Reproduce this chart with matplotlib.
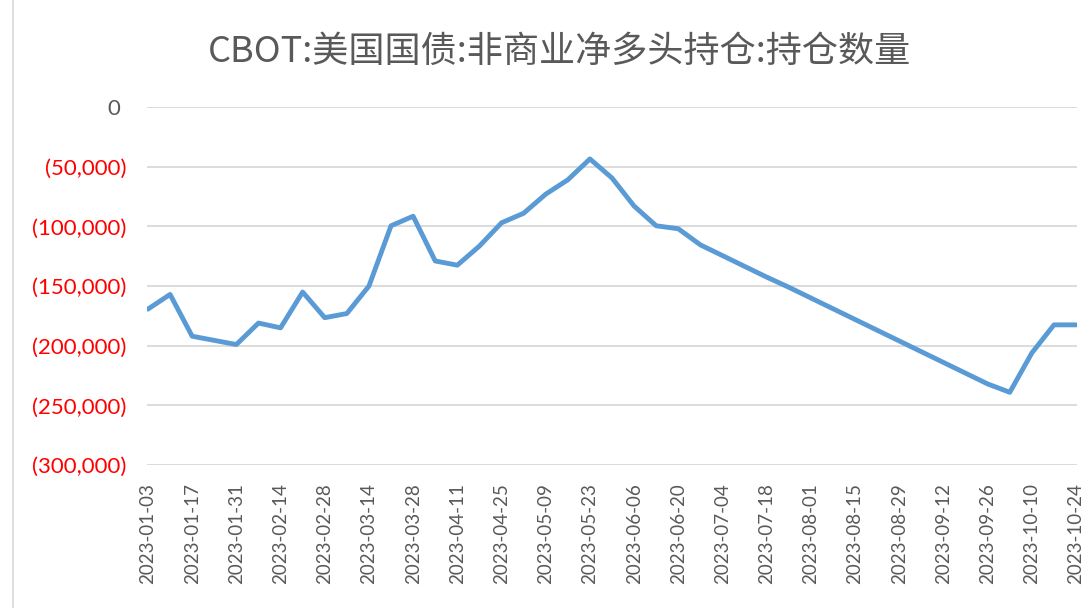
import pandas as pd
import numpy as np
import matplotlib
matplotlib.use("Agg")
import matplotlib.pyplot as plt
from matplotlib.ticker import FuncFormatter
from matplotlib.lines import Line2D

plt.rcParams['font.family'] = ['Noto Sans CJK SC', 'DejaVu Sans']

# 周度数据（负值 = 净空头）
dates = pd.date_range("2023-01-03", "2023-10-24", freq="7D")
net_long = [
    -169300, -157000, -192000, -195500, -199000,
    -181000, -185000, -155000, -176500,
    -173000, -150000, -99500, -91500,
    -129000, -132500, -116500, -97000,
    -89000, -73000, -61000, -43500, -59500,
    -83000, -99500, -102000, -115500,
    -124500, -133500, -142500, -151000,
    -160000, -169000, -178000, -187000, -196000,
    -205000, -214000, -223000, -232000,
    -239000, -206000, -182500, -182500,
]
tick_dates = pd.date_range("2023-01-03", "2023-10-24", freq="14D")
y_ticks = [0, -50000, -100000, -150000, -200000, -250000, -300000]
title = "CBOT:美国国债:非商业净多头持仓:持仓数量"

fig = plt.figure(figsize=(10.89, 6.08), dpi=100)
ax = fig.add_axes([0.135, 0.235, 0.854, 0.589])

ax.plot(dates, net_long, color="#5B9BD5", linewidth=3.5,
        solid_joinstyle="round", solid_capstyle="round", zorder=3)

ax.set_ylim(-300000, 0)
ax.set_xlim(dates[0] - pd.Timedelta(days=0.3), dates[-1] + pd.Timedelta(days=0.3))
ax.set_yticks(y_ticks)
ax.yaxis.grid(True, color="#D9D9D9", linewidth=1.3)
ax.set_axisbelow(True)


def fmt(v, pos):
    # Excel 会计格式：负数加括号，正数后留一点空位
    if v < 0:
        return "({:,.0f})".format(-v)
    return "{:,.0f} ".format(v)


ax.yaxis.set_major_formatter(FuncFormatter(fmt))
for lab, v in zip(ax.get_yticklabels(), y_ticks):
    lab.set_color("red" if v < 0 else "#595959")
    lab.set_fontfamily("Lato")

ax.set_xticks(tick_dates)
ax.set_xticklabels([d.strftime("%Y-%m-%d") for d in tick_dates],
                   rotation=90, color="#595959", fontsize=13.5, family="Lato")
ax.tick_params(axis="y", length=0, pad=15, labelsize=16)
ax.tick_params(axis="x", length=0, pad=13)

for s in ax.spines.values():
    s.set_visible(False)

fig.suptitle(title, x=0.514, y=0.945, fontsize=26, color="#595959",
             fontweight="light")

# 图表左侧边框
fig.add_artist(Line2D([13 / 1089, 13 / 1089], [0, 1], color="#D9D9D9",
                      linewidth=1.2, transform=fig.transFigure))

fig.savefig("out.png", dpi=100)
